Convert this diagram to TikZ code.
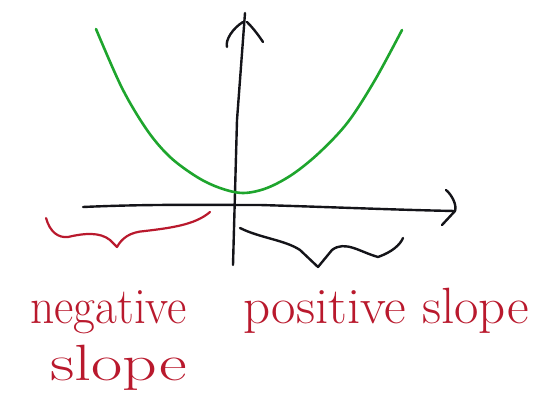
\documentclass[tikz,border=0pt]{standalone}
\definecolor{penred}{RGB}{185,25,45}
\definecolor{pengreen}{RGB}{30,165,45}
\definecolor{penblack}{RGB}{20,20,25}
\begin{document}
\begin{tikzpicture}[x=1pt,y=-1pt,
  axisline/.style={penblack,line width=2.4pt,line cap=round,line join=round},
  curve/.style={pengreen,line width=2.6pt,line cap=round},
  redbrace/.style={penred,line width=2.2pt,line cap=round,line join=round},
  blackbrace/.style={penblack,line width=2.4pt,line cap=round,line join=round},
  label/.style={penred,inner sep=0pt,anchor=base west,font=\fontsize{51}{56}\selectfont}]
\useasboundingbox (0,0) rectangle (551,414);
% axes
\coordinate (vbot) at (233,265);
\coordinate (vtop) at (245,13);
\coordinate (hleft) at (83,207);
\coordinate (hright) at (455,211);
\draw[axisline] (vbot) -- (237,120) -- (vtop);
\draw[axisline] (227,47) .. controls (225,40) and (233,28) .. (243,22);
\draw[axisline] (263,42) .. controls (257,33) and (252,27) .. (247,22);
\draw[axisline] (hleft) .. controls (150,204) and (200,205) .. (260,205) .. controls (330,207) and (400,210) .. (hright);
\draw[axisline] (446,190) .. controls (452,195) and (457,205) .. (hright);
\draw[axisline] (442,225) -- (hright);
% parabola
\draw[curve] plot[smooth,tension=0.55] coordinates {(96,29) (122,88) (147,130) (170,157) (197,177) (220,188) (243,193) (267,188) (293,174) (320,152) (348,122) (375,80) (402,30)};
% braces
\draw[redbrace] (46,218) .. controls (50,232) and (58,238) .. (68,237)
  .. controls (85,233) and (100,232) .. (110,240) -- (117,247)
  .. controls (122,238) and (130,232) .. (145,231)
  .. controls (170,228) and (195,225) .. (210,212);
\draw[blackbrace] (240,228) .. controls (260,238) and (285,240) .. (300,250)
  -- (318,267) -- (332,250)
  .. controls (345,240) and (360,252) .. (378,257)
  .. controls (392,252) and (400,245) .. (403,238);
% labels
\node[label,xscale=0.93,transform shape] (neg) at (30,323) {negative};
\node[label,xscale=1.33,transform shape] (slope1) at (50,380) {slope};
\node[label,xscale=1.04,transform shape] (pos) at (243,323) {positive slope};
\end{tikzpicture}
\end{document}
